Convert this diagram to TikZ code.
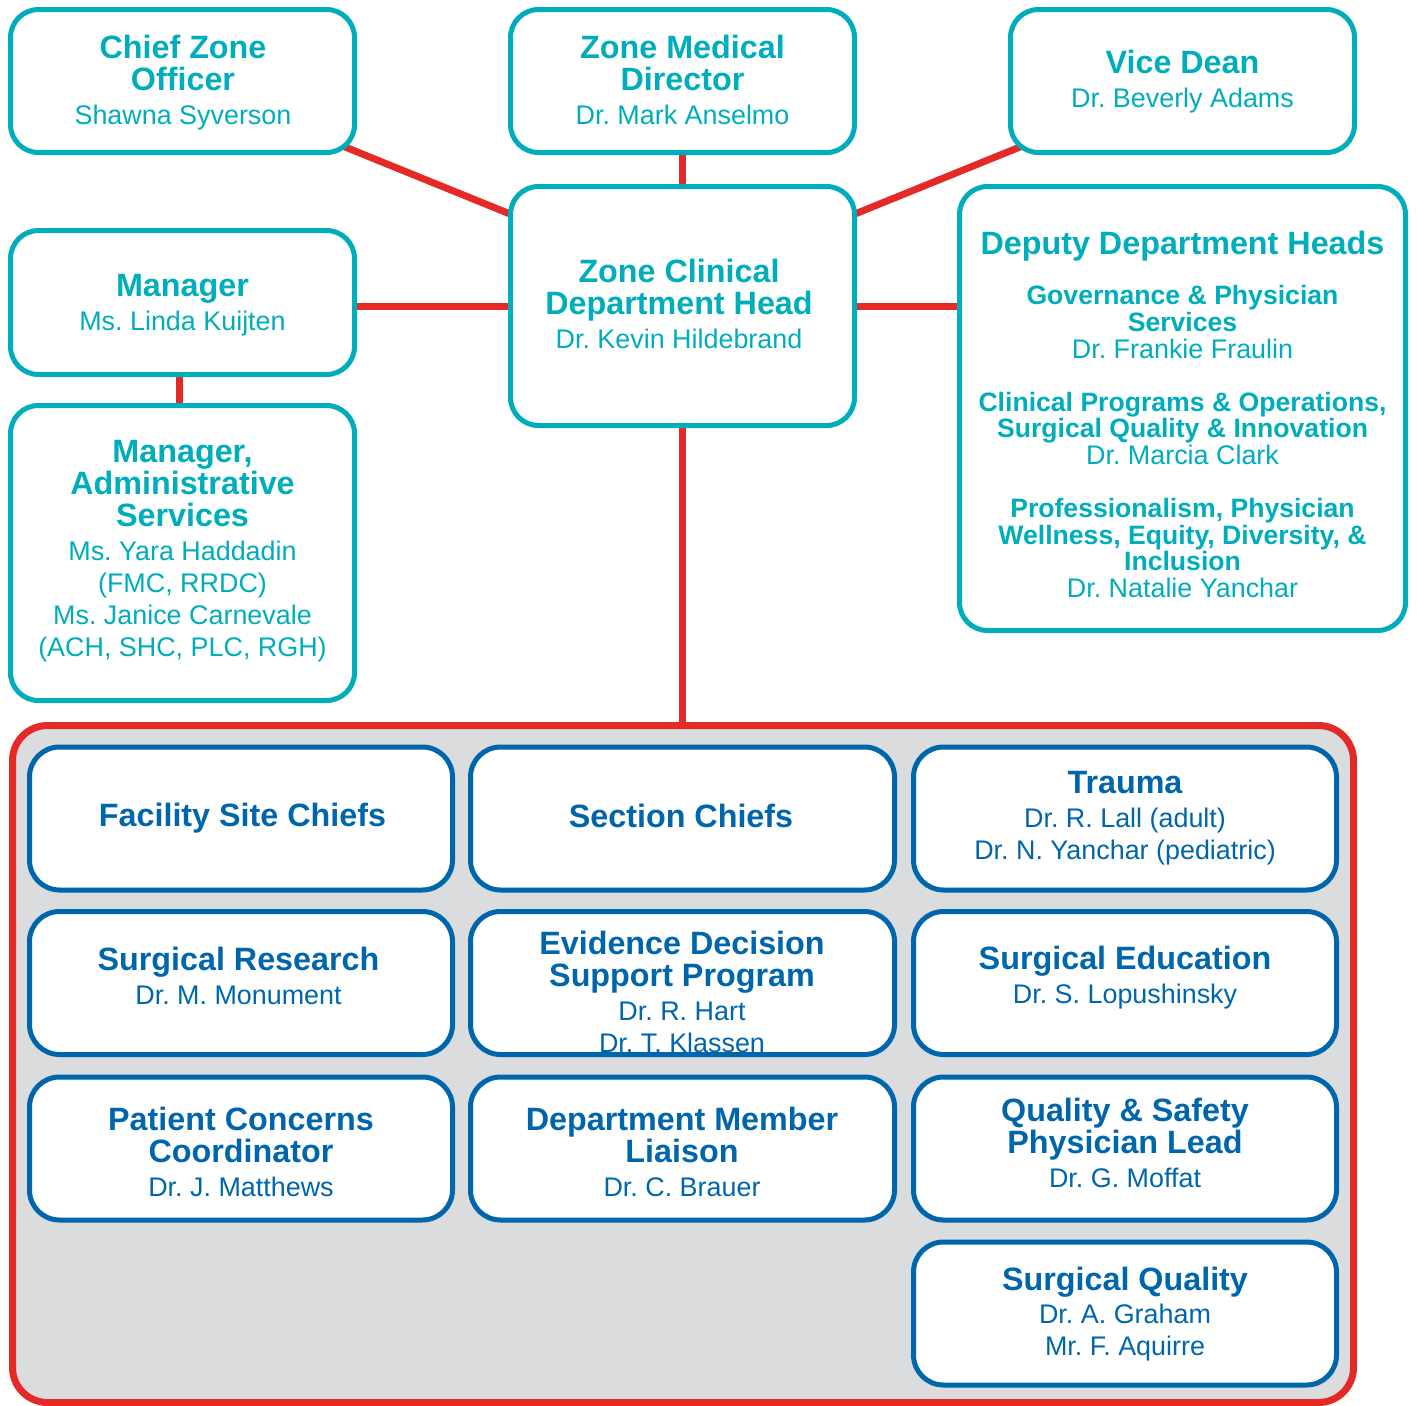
\documentclass[tikz,border=0pt]{standalone}
\usepackage{fontspec}
\setmainfont{Liberation Sans}
\usetikzlibrary{backgrounds,calc}
\definecolor{tealA}{HTML}{00ADBB}
\definecolor{blueA}{HTML}{0066AB}
\definecolor{redA}{HTML}{E42A26}
\definecolor{grayA}{HTML}{DBDCDE}
\newcommand{\hdl}[1]{{\fontsize{32.3}{32}\selectfont\bfseries #1}}
\newcommand{\shl}[1]{{\fontsize{26.6}{26.7}\selectfont\bfseries #1}}
\frenchspacing
\begin{document}
\begin{tikzpicture}[x=1pt,y=-1pt,
  tbox/.style={draw=tealA, line width=5pt, fill=white, rounded corners=28pt,
    minimum width=344pt, minimum height=143pt, inner sep=0pt},
  bbox/.style={draw=blueA, line width=5pt, fill=white, rounded corners=30pt,
    minimum width=423pt, minimum height=143pt, inner sep=0pt},
  ttxt/.style={text=tealA, align=center, inner sep=0pt, font=\fontsize{26.9}{32}\selectfont},
  btxt/.style={text=blueA, align=center, inner sep=0pt, font=\fontsize{26.9}{32}\selectfont},
  conn/.style={draw=redA, line width=7pt}]
\useasboundingbox (0,0) rectangle (1417,1406);

% top boxes
\node[tbox] (czo) at (182.5,81) {};
\node[tbox] (zmd) at (682.5,81) {};
\node[tbox] (vd) at (1182.5,81) {};
\node[tbox, minimum height=239pt] (zcdh) at (682.5,306) {};
\node[tbox, minimum height=144pt] (mgr) at (182.5,302.5) {};
\node[tbox, minimum height=295pt] (adm) at (182.5,553) {};
\node[tbox, minimum width=446pt, minimum height=444pt] (dep) at (1182.5,408.5) {};

\node[ttxt] (czo-t) at (183,82.5) {\hdl{Chief Zone}\\\hdl{Officer}\\[2pt]Shawna Syverson};
\node[ttxt] (zmd-t) at (682.5,79.5) {\hdl{Zone Medical}\\\hdl{Director}\\[2pt]Dr. Mark Anselmo};
\node[ttxt] (vd-t) at (1182.5,82) {\hdl{Vice Dean}\\[2pt]Dr. Beverly Adams};
\node[ttxt] (zcdh-t) at (679,303.5) {\hdl{Zone Clinical}\\\hdl{Department Head}\\[2pt]Dr. Kevin Hildebrand};
\node[ttxt] (mgr-t) at (182.5,305.5) {\hdl{Manager}\\[2pt]Ms. Linda Kuijten};
\node[ttxt] (adm-t) at (182.5,551) {\hdl{Manager,}\\\hdl{Administrative}\\\hdl{Services}\\[2pt]Ms. Yara Haddadin\\(FMC, RRDC)\\Ms. Janice Carnevale\\(ACH, SHC, PLC, RGH)};
\node[ttxt, font=\fontsize{26.9}{26.7}\selectfont] (dep-t) at (1182.5,414.5) {\hdl{Deputy Department Heads}\\[23.3pt]
  \shl{Governance \& Physician}\\\shl{Services}\\Dr. Frankie Fraulin\\[26.3pt]
  \shl{Clinical Programs \& Operations,}\\\shl{Surgical Quality \& Innovation}\\Dr. Marcia Clark\\[26.3pt]
  \shl{Professionalism, Physician}\\\shl{Wellness, Equity, Diversity, \&}\\\shl{Inclusion}\\Dr. Natalie Yanchar};

% group box
\node[draw=redA, line width=7pt, fill=grayA, rounded corners=35pt,
  minimum width=1341pt, minimum height=677pt, inner sep=0pt] (grp) at (683,1064) {};

\node[bbox] (fsc) at (241,818.5) {};
\node[bbox, minimum width=424pt] (sc) at (682.5,818.5) {};
\node[bbox] (tr) at (1125,818.5) {};
\node[bbox] (sr) at (241,983) {};
\node[bbox, minimum width=424pt] (ed) at (682.5,983) {};
\node[bbox] (se) at (1125,983) {};
\node[bbox] (pc) at (241,1148.5) {};
\node[bbox, minimum width=424pt] (dml) at (682.5,1148.5) {};
\node[bbox] (qs) at (1125,1148.5) {};
\node[bbox] (sq) at (1125,1313.5) {};

\node[btxt] (fsc-t) at (242.5,818) {\hdl{Facility Site Chiefs}};
\node[btxt] (sc-t) at (681,815.5) {\hdl{Section Chiefs}};
\node[btxt] (tr-t) at (1125,818.5) {\hdl{Trauma}\\[2pt]Dr. R. Lall (adult)\\Dr. N. Yanchar (pediatric)};
\node[btxt] (sr-t) at (238.5,975.5) {\hdl{Surgical Research}\\[2pt]Dr. M. Monument};
\node[btxt] (ed-t) at (682,991.5) {\hdl{Evidence Decision}\\\hdl{Support Program}\\[2pt]Dr. R. Hart\\Dr. T. Klassen};
\node[btxt] (se-t) at (1125,978) {\hdl{Surgical Education}\\[2pt]Dr. S. Lopushinsky};
\node[btxt] (pc-t) at (241,1151.5) {\hdl{Patient Concerns}\\\hdl{Coordinator}\\[2pt]Dr. J. Matthews};
\node[btxt] (dml-t) at (682,1151.5) {\hdl{Department Member}\\\hdl{Liaison}\\[2pt]Dr. C. Brauer};
\node[btxt] (qs-t) at (1125,1142.5) {\hdl{Quality \& Safety}\\\hdl{Physician Lead}\\[2pt]Dr. G. Moffat};
\node[btxt] (sq-t) at (1125,1314) {\hdl{Surgical Quality}\\[1pt]Dr. A. Graham\\Mr. F. Aquirre};

\coordinate (hub) at ($(zcdh.center)+(0,-22)$);

\begin{pgfonlayer}{background}
\fill[white] (0,0) rectangle (1417,1406);
\draw[conn] (czo.center) -- (hub);
\draw[conn] (vd.center) -- (hub);
\draw[conn] (zmd.center) -- (zcdh.center);
\draw[conn] (zcdh.center) -- (zcdh.center -| mgr.center);
\draw[conn] (zcdh.center) -- (zcdh.center -| dep.center);
\draw[conn] ([xshift=-3.5pt]mgr.center) -- ([xshift=-3.5pt]adm.center);
\draw[conn] (zcdh.center) -- (zcdh.center |- grp.north);
\end{pgfonlayer}
\end{tikzpicture}
\end{document}
